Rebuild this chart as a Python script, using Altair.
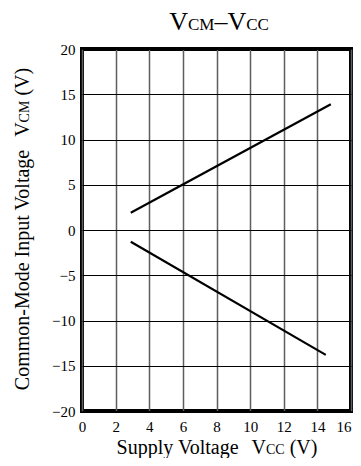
import altair as alt
import pandas as pd

# ---- data ----
vcc_upper = [2.9, 14.8]
vcm_upper = [1.9, 13.9]
vcc_lower = [2.9, 14.5]
vcm_lower = [-1.3, -13.8]

x_ticks = [0, 2, 4, 6, 8, 10, 12, 14, 16]
y_ticks = [-20, -15, -10, -5, 0, 5, 10, 15, 20]

# (text, font size, number of spaces before it)
title_parts = [("V", 26, 0), ("CM", 17, 0), ("\u2013", 26, 0), ("V", 26, 0), ("CC", 17, 0)]
xtitle_parts = [("Supply Voltage", 20, 0), ("V", 20, 2), ("CC", 14, 0), ("(V)", 20, 1)]
ytitle_parts = [("Common-Mode Input Voltage", 20, 0), ("V", 20, 2), ("CM", 14, 0), ("(V)", 20, 1)]

FONT = "Liberation Serif"
W, H = 269, 362

df = pd.DataFrame({
    "Vcc": vcc_upper + vcc_lower,
    "Vcm": vcm_upper + vcm_lower,
    "series": ["upper"] * 2 + ["lower"] * 2,
})

# Times metrics (per 1000 em) for laying out subscript pieces
ADV = {" ": 250, "(": 333, ")": 333, "-": 333, "\u2013": 500, "C": 667,
       "M": 889, "V": 722, "I": 333, "S": 556, "a": 444, "d": 500, "e": 444,
       "g": 500, "l": 278, "m": 778, "n": 500, "o": 500, "p": 500, "t": 278,
       "u": 500, "y": 500}


def tw(t, s):
    return sum(ADV.get(c, 500) for c in t) * s / 1000.0


def label_layers(parts, cx, cy, angle=0):
    total = sum(tw(t, s) + g * 0.25 * s for t, s, g in parts)
    pos = -total / 2
    out = []
    for t, s, g in parts:
        pos += g * 0.25 * s
        if angle == 0:
            px, py = cx + pos, cy
        else:
            px, py = cx, cy - pos
        out.append(
            alt.Chart(alt.Data(values=[{}]))
            .mark_text(text=t, fontSize=s, font=FONT, align="left",
                       baseline="alphabetic", angle=angle, color="black")
            .encode(x=alt.value(px), y=alt.value(py))
        )
        pos += tw(t, s)
    return out


lines = (
    alt.Chart(df)
    .mark_line(color="black", strokeWidth=2.2)
    .encode(
        x=alt.X("Vcc:Q", scale=alt.Scale(domain=[0, 16], nice=False),
                axis=alt.Axis(values=x_ticks, ticks=False, domain=False, grid=True,
                              gridColor="#5e5e5e", gridWidth=1.5, labelPadding=8,
                              labelFlush=False, title=None, format="d",
                              labelAlign={"condition": {"test": "datum.value == 16", "value": "right"},
                                          "value": "center"})),
        y=alt.Y("Vcm:Q", scale=alt.Scale(domain=[-20, 20], nice=False),
                axis=alt.Axis(values=y_ticks, ticks=False, domain=False, grid=True,
                              gridColor="black", gridWidth=1, labelPadding=7,
                              labelFlush=False, title=None, format="d")),
        detail="series:N",
    )
)

layers = [lines]
layers += label_layers(title_parts, 137, -19.5)
layers += label_layers(xtitle_parts, 135, 405)
layers += label_layers(ytitle_parts, -53.5, 180, angle=270)

chart = (
    alt.layer(*layers)
    .properties(width=W, height=H,
                padding={"left": 74, "top": 41, "right": 2, "bottom": 47},
                autosize=alt.AutoSizeParams(type="none"))
    .configure_view(stroke="black", strokeWidth=4)
    .configure_axis(labelFont=FONT, labelFontSize=15, labelColor="black")
)

chart.save("out.html", embed_options={"renderer": "svg", "actions": False})
